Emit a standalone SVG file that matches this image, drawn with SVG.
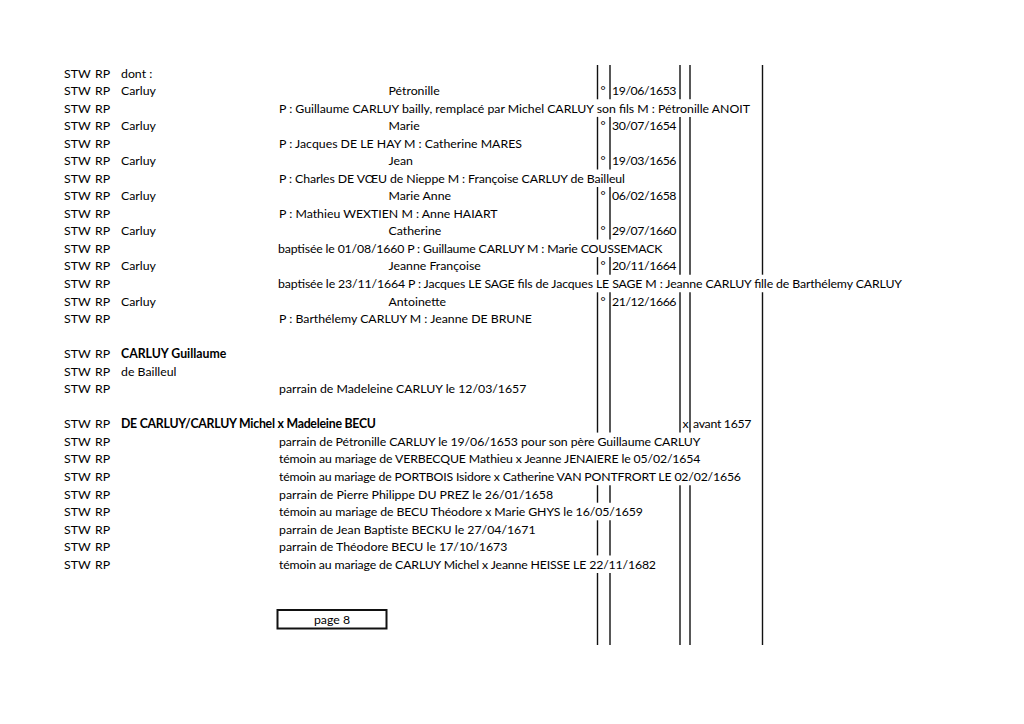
<svg xmlns="http://www.w3.org/2000/svg" width="1024" height="724" viewBox="0 0 1024 724">
<style>
text{font-family:Lato,"Open Sans","Liberation Sans",sans-serif;font-size:12.3px;fill:#000}
.b{font-weight:bold}
.r line{stroke:#111;stroke-width:1.4}
</style>
<rect width="1024" height="724" fill="#fff"/>
<g id="rules" class="r">
<line x1="597.5" y1="65" x2="597.5" y2="99.3"/><line x1="597.5" y1="116.9" x2="597.5" y2="169.5"/><line x1="597.5" y1="187" x2="597.5" y2="239.6"/><line x1="597.5" y1="257.1" x2="597.5" y2="274.7"/><line x1="597.5" y1="292.3" x2="597.5" y2="432.6"/><line x1="597.5" y1="485.2" x2="597.5" y2="502.7"/><line x1="597.5" y1="520.3" x2="597.5" y2="555.4"/><line x1="597.5" y1="573" x2="597.5" y2="645"/>
<line x1="610" y1="65" x2="610" y2="99.3"/><line x1="610" y1="116.9" x2="610" y2="169.5"/><line x1="610" y1="187" x2="610" y2="239.6"/><line x1="610" y1="257.1" x2="610" y2="274.7"/><line x1="610" y1="292.3" x2="610" y2="432.6"/><line x1="610" y1="485.2" x2="610" y2="502.7"/><line x1="610" y1="520.3" x2="610" y2="555.4"/><line x1="610" y1="573" x2="610" y2="645"/>
<line x1="680" y1="65" x2="680" y2="99.3"/><line x1="680" y1="116.9" x2="680" y2="274.7"/><line x1="680" y1="292.3" x2="680" y2="432.6"/><line x1="680" y1="485.2" x2="680" y2="645"/>
<line x1="690" y1="65" x2="690" y2="99.3"/><line x1="690" y1="116.9" x2="690" y2="274.7"/><line x1="690" y1="292.3" x2="690" y2="432.6"/><line x1="690" y1="485.2" x2="690" y2="645"/>
<line x1="762.5" y1="65" x2="762.5" y2="274.7"/><line x1="762.5" y1="292.3" x2="762.5" y2="645"/>
</g>
<g id="col-stw">
<text x="64" y="77.5">STW</text><text x="64" y="95">STW</text><text x="64" y="112.6">STW</text><text x="64" y="130.1">STW</text><text x="64" y="147.7">STW</text><text x="64" y="165.2">STW</text><text x="64" y="182.7">STW</text><text x="64" y="200.3">STW</text><text x="64" y="217.8">STW</text><text x="64" y="235.4">STW</text><text x="64" y="252.9">STW</text><text x="64" y="270.4">STW</text><text x="64" y="288">STW</text><text x="64" y="305.5">STW</text><text x="64" y="323.1">STW</text>
<text x="64" y="358.1">STW</text><text x="64" y="375.7">STW</text><text x="64" y="393.2">STW</text>
<text x="64" y="428.3">STW</text><text x="64" y="445.8">STW</text><text x="64" y="463.4">STW</text><text x="64" y="480.9">STW</text><text x="64" y="498.5">STW</text><text x="64" y="516">STW</text><text x="64" y="533.5">STW</text><text x="64" y="551.1">STW</text><text x="64" y="568.6">STW</text>
</g>
<g id="col-rp">
<text x="95" y="77.5">RP</text><text x="95" y="95">RP</text><text x="95" y="112.6">RP</text><text x="95" y="130.1">RP</text><text x="95" y="147.7">RP</text><text x="95" y="165.2">RP</text><text x="95" y="182.7">RP</text><text x="95" y="200.3">RP</text><text x="95" y="217.8">RP</text><text x="95" y="235.4">RP</text><text x="95" y="252.9">RP</text><text x="95" y="270.4">RP</text><text x="95" y="288">RP</text><text x="95" y="305.5">RP</text><text x="95" y="323.1">RP</text>
<text x="95" y="358.1">RP</text><text x="95" y="375.7">RP</text><text x="95" y="393.2">RP</text>
<text x="95" y="428.3">RP</text><text x="95" y="445.8">RP</text><text x="95" y="463.4">RP</text><text x="95" y="480.9">RP</text><text x="95" y="498.5">RP</text><text x="95" y="516">RP</text><text x="95" y="533.5">RP</text><text x="95" y="551.1">RP</text><text x="95" y="568.6">RP</text>
</g>
<g id="col-family">
<text x="121" y="77.5">dont :</text>
<text x="121" y="95">Carluy</text><text x="121" y="130.1">Carluy</text><text x="121" y="165.2">Carluy</text><text x="121" y="200.3">Carluy</text><text x="121" y="235.4">Carluy</text><text x="121" y="270.4">Carluy</text><text x="121" y="305.5">Carluy</text>
<text x="121" y="358.1" class="b">CARLUY Guillaume</text>
<text x="121" y="375.7">de Bailleul</text>
<text x="121" y="428.3" class="b" textLength="255">DE CARLUY/CARLUY Michel x Madeleine BECU</text>
</g>
<g id="col-names">
<text x="388.5" y="95">Pétronille</text><text x="388.5" y="130.1">Marie</text><text x="388.5" y="165.2">Jean</text><text x="388.5" y="200.3">Marie Anne</text><text x="388.5" y="235.4">Catherine</text><text x="388.5" y="270.4">Jeanne Françoise</text><text x="388.5" y="305.5">Antoinette</text>
</g>
<g id="col-details">
<text x="279" y="112.6" textLength="471">P : Guillaume CARLUY bailly, remplacé par Michel CARLUY son fils M : Pétronille ANOIT</text>
<text x="279" y="147.7">P : Jacques DE LE HAY M : Catherine MARES</text>
<text x="279" y="182.7" textLength="346">P : Charles DE VŒU de Nieppe M : Françoise CARLUY de Bailleul</text>
<text x="279" y="217.8">P : Mathieu WEXTIEN M : Anne HAIART</text>
<text x="278" y="252.9" textLength="384.5">baptisée le 01/08/1660 P : Guillaume CARLUY M : Marie COUSSEMACK</text>
<text x="278" y="288" textLength="624">baptisée le 23/11/1664 P : Jacques LE SAGE fils de Jacques LE SAGE M : Jeanne CARLUY fille de Barthélemy CARLUY</text>
<text x="279" y="323.1">P : Barthélemy CARLUY M : Jeanne DE BRUNE</text>
<text x="279" y="393.2">parrain de Madeleine CARLUY le 12/03/1657</text>
<text x="279" y="445.8" textLength="421.5">parrain de Pétronille CARLUY le 19/06/1653 pour son père Guillaume CARLUY</text>
<text x="279" y="463.4" textLength="421.5">témoin au mariage de VERBECQUE Mathieu x Jeanne JENAIERE le 05/02/1654</text>
<text x="279" y="480.9" textLength="462">témoin au mariage de PORTBOIS Isidore x Catherine VAN PONTFRORT LE 02/02/1656</text>
<text x="279" y="498.5">parrain de Pierre Philippe DU PREZ le 26/01/1658</text>
<text x="279" y="516" textLength="364">témoin au mariage de BECU Théodore x Marie GHYS le 16/05/1659</text>
<text x="279" y="533.5">parrain de Jean Baptiste BECKU le 27/04/1671</text>
<text x="279" y="551.1">parrain de Théodore BECU le 17/10/1673</text>
<text x="279" y="568.6" textLength="377">témoin au mariage de CARLUY Michel x Jeanne HEISSE LE 22/11/1682</text>
</g>
<g id="col-dates">
<text x="600.5" y="95">°</text><text x="612" y="95" textLength="64.5">19/06/1653</text>
<text x="600.5" y="130.1">°</text><text x="612" y="130.1" textLength="64.5">30/07/1654</text>
<text x="600.5" y="165.2">°</text><text x="612" y="165.2" textLength="64.5">19/03/1656</text>
<text x="600.5" y="200.3">°</text><text x="612" y="200.3" textLength="64.5">06/02/1658</text>
<text x="600.5" y="235.4">°</text><text x="612" y="235.4" textLength="64.5">29/07/1660</text>
<text x="600.5" y="270.4">°</text><text x="612" y="270.4" textLength="64.5">20/11/1664</text>
<text x="600.5" y="305.5">°</text><text x="612" y="305.5" textLength="64.5">21/12/1666</text>
<text x="682.5" y="428.3">x</text><text x="693" y="428.3" textLength="58.5">avant 1657</text>
</g>
<g id="page-box">
<rect x="277.5" y="610" width="109" height="18.5" fill="none" stroke="#111" stroke-width="2"/>
<text x="332" y="623.5" text-anchor="middle">page 8</text>
</g>
</svg>
